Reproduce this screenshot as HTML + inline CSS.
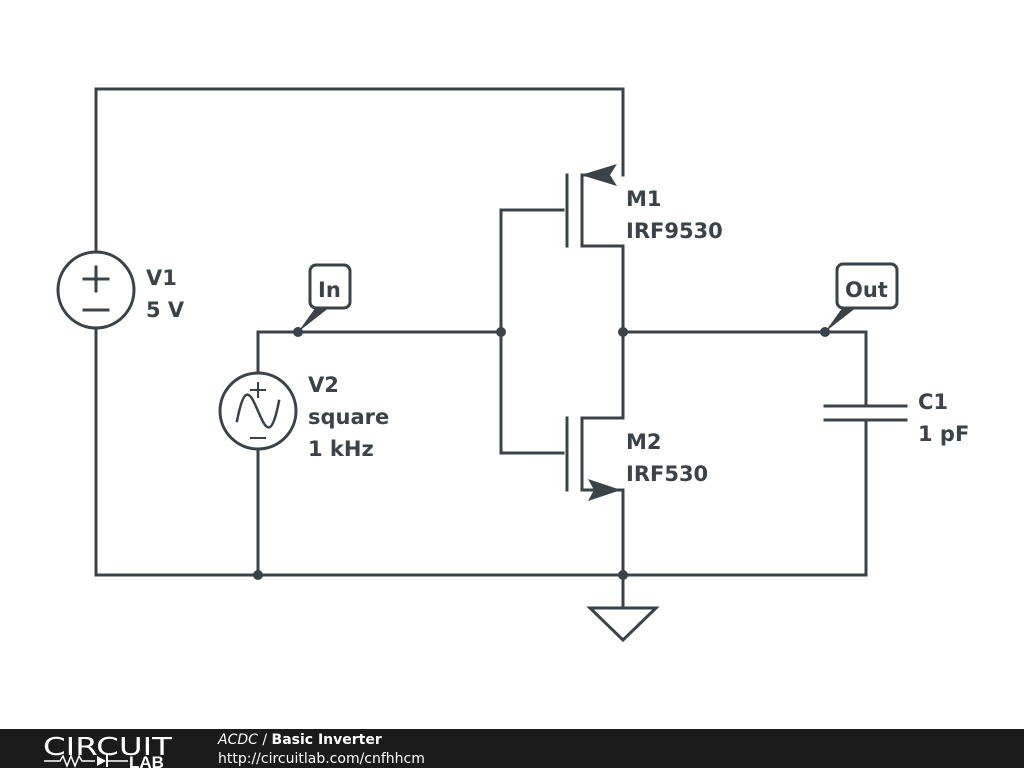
<!DOCTYPE html>
<html><head><style>
html,body{margin:0;padding:0;background:#fff;width:1024px;height:768px;overflow:hidden}
svg{display:block}
</style></head><body>
<svg width="1024" height="768" viewBox="0 0 1024 768" xmlns="http://www.w3.org/2000/svg">
<g stroke="#3b4348" stroke-width="3" fill="none" stroke-linecap="square">
<polyline points="96,252 96,89 623,89 623,175"/>
<polyline points="96,328 96,575 866,575 866,420"/>
<circle cx="96" cy="290" r="38"/>
<polyline points="258,373 258,332 501,332"/>
<circle cx="258" cy="411" r="38"/>
<line x1="258" y1="449" x2="258" y2="575"/>
<polyline points="563,210 501,210 501,453 563,453"/>
<line x1="567" y1="175" x2="567" y2="246"/>
<polyline points="600,175 582,175 582,246 623,246 623,418 582,418 582,490 623,490 623,608"/>
<line x1="567" y1="418" x2="567" y2="490"/>
<polyline points="623,332 866,332 866,406"/>
<line x1="825" y1="406" x2="906" y2="406"/>
<line x1="825" y1="420" x2="906" y2="420"/>
<polygon points="590,608 656,608 623,640" stroke-linejoin="miter"/>
<line x1="84" y1="279" x2="108" y2="279"/>
<line x1="96" y1="267" x2="96" y2="291"/>
<line x1="84" y1="310" x2="108" y2="310"/>
<line x1="251" y1="390" x2="265" y2="390" stroke-width="2"/>
<line x1="258" y1="383" x2="258" y2="397" stroke-width="2"/>
<line x1="251" y1="438" x2="265" y2="438" stroke-width="2"/>
<path d="M237,421 C245,380 251,395 258,411 C265,427 271,442 279,401" stroke-width="2.5"/>
<rect x="310" y="265" width="40" height="43" rx="6"/>
<rect x="837" y="264" width="60" height="44" rx="6"/>
</g>
<g fill="#3b4348">
<circle cx="298" cy="332" r="5"/>
<circle cx="501" cy="332" r="5"/>
<circle cx="623" cy="332" r="5"/>
<circle cx="825" cy="332" r="5"/>
<circle cx="258" cy="575" r="5"/>
<circle cx="623" cy="575" r="5"/>
<polygon points="298,332 316,307 330,307"/>
<polygon points="825,332 843,307 857,307"/>
<polygon points="581,175 617,164 610,175 617,186"/>
<polygon points="621,490 588,479 594,490 588,501"/>
</g>
<g font-family="'DejaVu Sans',sans-serif" font-weight="bold" font-size="21" fill="#3b4348">
<text x="146" y="285">V1</text><text x="146" y="317">5 V</text>
<text x="308" y="392">V2</text><text x="308" y="424">square</text><text x="308" y="456">1 kHz</text>
<text x="626" y="206">M1</text><text x="626" y="238">IRF9530</text>
<text x="626" y="449">M2</text><text x="626" y="481">IRF530</text>
<text x="918" y="409">C1</text><text x="918" y="441">1 pF</text>
<text x="318" y="297">In</text>
<text x="845" y="297">Out</text>
</g>
<rect x="0" y="729" width="1024" height="39" fill="#1b1b1b"/>
<text x="43" y="755" font-family="'DejaVu Sans',sans-serif" font-size="25" fill="#fff" textLength="129" lengthAdjust="spacingAndGlyphs">CIRCUIT</text>
<polyline points="44,761 60,761 63,756 67,766 71,756 75,766 79,756 82,761 95,761" stroke="#fff" stroke-width="1.5" fill="none"/>
<polygon points="97,756 97,766 106,761" fill="#fff"/>
<line x1="107" y1="755" x2="107" y2="767" stroke="#fff" stroke-width="2"/>
<line x1="107" y1="761" x2="128" y2="761" stroke="#fff" stroke-width="1.5"/>
<text x="129" y="768" font-family="'Liberation Sans',sans-serif" font-weight="bold" font-size="17" fill="#fff">LAB</text>
<text x="218" y="744" font-family="'DejaVu Sans',sans-serif" font-size="14" fill="#fff"><tspan font-style="italic">ACDC</tspan> / <tspan font-weight="bold">Basic Inverter</tspan></text>
<text x="218" y="763" font-family="'DejaVu Sans',sans-serif" font-size="14" fill="#fff">http://circuitlab.com/cnfhhcm</text>
</svg>
</body></html>
